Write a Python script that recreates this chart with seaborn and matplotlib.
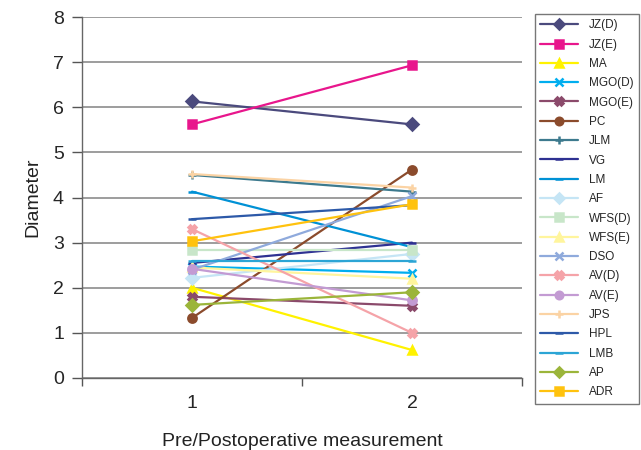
import pandas as pd
import numpy as np
import matplotlib
matplotlib.use("Agg")
import matplotlib.pyplot as plt
import seaborn as sns

# series names, pre (1) and post (2) diameter values
series = ['JZ(D)', 'JZ(E)', 'MA', 'MGO(D)', 'MGO(E)', 'PC', 'JLM', 'VG', 'LM', 'AF',
          'WFS(D)', 'WFS(E)', 'DSO', 'AV(D)', 'AV(E)', 'JPS', 'HPL', 'LMB', 'AP', 'ADR']
pre = [6.13, 5.62, 2.0, 2.47, 1.8, 1.33, 4.5, 2.55, 4.13, 2.22,
       2.83, 2.45, 2.4, 3.3, 2.42, 4.52, 3.52, 2.6, 1.62, 3.03]
post = [5.62, 6.93, 0.62, 2.33, 1.6, 4.62, 4.13, 3.0, 2.9, 2.75,
        2.83, 2.2, 4.03, 1.0, 1.72, 4.22, 3.83, 2.6, 1.9, 3.85]
timepoints = [1, 2]

colors = ['#4b4a7d', '#e8168c', '#fff200', '#00aeef', '#8b4a6b', '#8b4b2c', '#3d7a8e',
          '#2e3192', '#0091d5', '#c5e5f5', '#c8e6c9', '#fff59d', '#8faadc', '#f5a3a8',
          '#c39bd3', '#fbd3a4', '#2d59a8', '#2ca5d5', '#9bb53a', '#ffc20e']
markers = ['D', 's', '^', 'x', 'X', 'o', '+', '_', '_', 'D',
           's', '^', 'x', 'X', 'o', '+', '_', '_', 'D', 's']

sns.set_theme(style='white')
plt.rcParams['font.family'] = ['Liberation Sans', 'DejaVu Sans']

fig = plt.figure(figsize=(6.41, 4.5), dpi=100)
ax = fig.add_axes([82 / 641, 1 - 378 / 450, 440 / 641, 361 / 450])

for name, a, b, c, m in zip(series, pre, post, colors, markers):
    d = pd.DataFrame({'time': timepoints, 'value': [a, b]})
    sns.lineplot(data=d, x='time', y='value', color=c, marker=m, markersize=6,
                 markeredgewidth=1.8, markeredgecolor=c, linewidth=1.6, label=name, ax=ax)

ax.set_xlim(0.5, 2.5)
ax.set_ylim(0, 8)
ax.set_yticks(range(0, 9))
ax.set_xticks([0.5, 1.5, 2.5])
ax.set_xticklabels([])
ax.set_xticks([1, 2], minor=True)
ax.set_xticklabels(['1', '2'], minor=True)
ax.tick_params(axis='x', which='minor', length=0, pad=12, labelsize=14)
ax.tick_params(axis='x', which='major', length=6, width=1, color='#555555', direction='out', bottom=True)
ax.tick_params(axis='y', length=7, width=1, color='#555555', direction='out', left=True, labelsize=14, pad=6)
ax.yaxis.grid(True, color='#8c8c8c', linewidth=1.2)
ax.set_axisbelow(True)
for s in ['top', 'right']:
    ax.spines[s].set_visible(False)
for s in ['left', 'bottom']:
    ax.spines[s].set_color('#666666')
    ax.spines[s].set_linewidth(1)

ax.set_xlabel('Pre/Postoperative measurement', fontsize=14, labelpad=15, color='#222222')
ax.set_ylabel('Diameter', fontsize=14, labelpad=8, color='#222222')

handles, labels = ax.get_legend_handles_labels()
leg = ax.legend(handles, labels, loc='upper left', bbox_to_anchor=(535 / 641, 1 - 14 / 450),
                bbox_transform=fig.transFigure, frameon=True, fontsize=8.5,
                handlelength=3.2, labelspacing=0.62, borderpad=0.45, handletextpad=0.9,
                borderaxespad=0, fancybox=False, edgecolor='#555555', markerscale=0.9)
leg.get_frame().set_linewidth(1)

fig.savefig('out.png', dpi=100)
